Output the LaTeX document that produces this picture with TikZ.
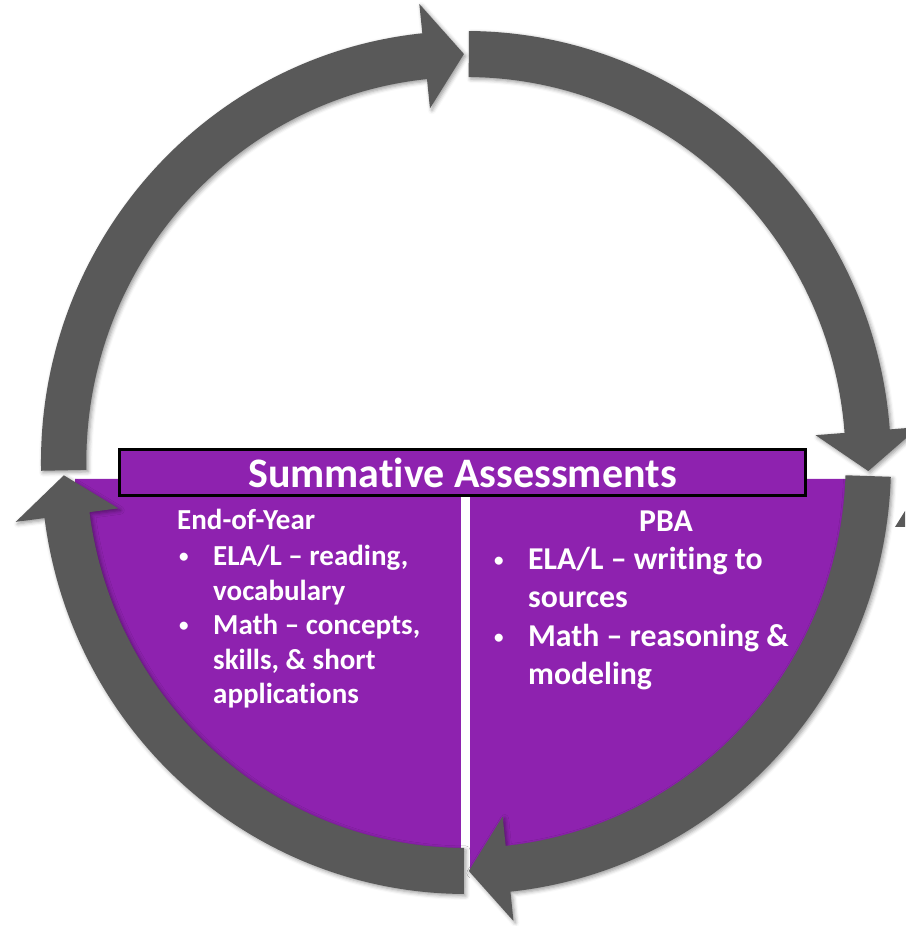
\documentclass[tikz,border=0pt]{standalone}
\usepackage{fontspec}
\setmainfont{Carlito}[Ligatures={NoCommon}]
\usetikzlibrary{shadows.blur}
\definecolor{ringgray}{RGB}{89,89,89}
\definecolor{sapurple}{RGB}{142,34,175}
\newcommand{\cyclearrow}[3]{%
  \path[ringarrow] (#1:431.5) arc[start angle=#1,end angle=#2,radius=431.5]
    -- (#2:461) -- (#3:408.5) -- (#2:356) -- (#2:385.5)
    arc[start angle=#2,end angle=#1,radius=385.5] -- cycle;}
\begin{document}
\begin{tikzpicture}[x=1pt,y=1pt,
  ringarrow/.style={fill=ringgray,
    blur shadow={shadow xshift=2pt,shadow yshift=-2pt,shadow blur radius=4pt,shadow opacity=40}},
  titlebox/.style={fill=sapurple,draw=black,line width=3pt,minimum width=686,minimum height=46,
    inner sep=0,text=white,font=\fontsize{42}{50}\selectfont\bfseries},
  lefttxt/.style={text=white,inner sep=0,anchor=base west,font=\fontsize{29}{34}\selectfont\bfseries},
  righttxt/.style={text=white,inner sep=0,anchor=base west,font=\fontsize{31.8}{38}\selectfont\bfseries},
  bul/.style={text=white,inner sep=0,anchor=base west,font=\fontsize{19}{20}\selectfont\bfseries}]
\useasboundingbox (0,0) rectangle (905,926);
% purple half disc
\fill[sapurple] (75,447) arc[start angle=180,end angle=360,radius=391] -- cycle;
% white divider
\fill[white] (461,48) rectangle (470,429);
% title
\node[titlebox] (title) at (462.5,453.5) {Summative Assessments};
% ring of arrows
\begin{scope}[shift={(466,463.5)},xscale=0.985]
  \cyclearrow{181.1}{95.9}{90.3}
  \cyclearrow{89.6}{4.4}{-1.2}
  \cyclearrow{-1.9}{-84.0}{-89.6}
  \cyclearrow{-90.3}{-172.6}{-178.2}
\end{scope}
\fill[ringgray] (895,399) -- (905,415) -- (905,399) -- cycle;
% left column
\node[lefttxt] (eoy) at (177,396) {End-of-Year};
\node[bul] (lb1) at (179,363) {•};
\node[lefttxt] (l1) at (213,360) {ELA/L – reading,};
\node[lefttxt] (l2) at (213,325.5) {vocabulary};
\node[bul] (lb2) at (179,294) {•};
\node[lefttxt] (l3) at (213,291) {Math – concepts,};
\node[lefttxt] (l4) at (213,256.5) {skills, \& short};
\node[lefttxt] (l5) at (213,222) {applications};
% right column
\node[righttxt,anchor=base] (pba) at (666,394) {PBA};
\node[bul] (rb1) at (494,359) {•};
\node[righttxt] (r1) at (528,356) {ELA/L – writing to};
\node[righttxt] (r2) at (528,318) {sources};
\node[bul] (rb2) at (494,282) {•};
\node[righttxt] (r3) at (528,279) {Math – reasoning \&};
\node[righttxt] (r4) at (528,241) {modeling};
\end{tikzpicture}
\end{document}
